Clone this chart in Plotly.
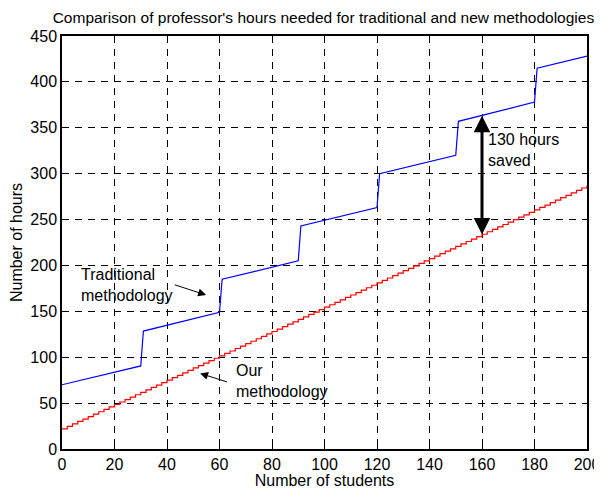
import plotly.graph_objects as go

# Traditional methodology (blue) - breakpoints
traditional_x = [0, 30, 31, 60, 61, 90, 91, 120, 121, 150, 151, 180, 181, 200]
traditional_y = [70, 90.5, 128.5, 149, 185, 205, 243, 263, 300, 320, 357, 378, 415, 428]

# Our methodology (red) - small staircase, one step every two students
ours_x = list(range(0, 201, 2))
ours_y = [22.0, 24.7, 27.3, 30.0, 32.6, 35.3, 37.9, 40.6, 43.2, 45.9,
          48.5, 51.2, 53.8, 56.5, 59.1, 61.8, 64.4, 67.1, 69.7, 72.4,
          75.0, 77.7, 80.3, 83.0, 85.6, 88.3, 90.9, 93.6, 96.2, 98.9,
          101.5, 104.2, 106.8, 109.5, 112.1, 114.8, 117.4, 120.1, 122.7, 125.4,
          128.0, 130.7, 133.3, 136.0, 138.6, 141.3, 143.9, 146.6, 149.2, 151.9,
          154.5, 157.2, 159.8, 162.5, 165.1, 167.8, 170.4, 173.1, 175.7, 178.4,
          181.0, 183.7, 186.3, 189.0, 191.6, 194.3, 196.9, 199.6, 202.2, 204.9,
          207.5, 210.2, 212.8, 215.5, 218.1, 220.8, 223.4, 226.1, 228.7, 231.4,
          234.0, 236.7, 239.3, 242.0, 244.6, 247.3, 249.9, 252.6, 255.2, 257.9,
          260.5, 263.2, 265.8, 268.5, 271.1, 273.8, 276.4, 279.1, 281.7, 284.4,
          287.0]

x_ticks = [0, 20, 40, 60, 80, 100, 120, 140, 160, 180, 200]
y_ticks = [0, 50, 100, 150, 200, 250, 300, 350, 400, 450]

saved_x = 160
saved_top = 363
saved_bottom = 232

FONT = "Arial, Liberation Sans, sans-serif"
FS = 16

fig = go.Figure()
fig.add_trace(go.Scatter(x=traditional_x, y=traditional_y, mode="lines",
                         line=dict(color="#0000FF", width=1.2), showlegend=False))
fig.add_trace(go.Scatter(x=ours_x, y=ours_y, mode="lines", line_shape="hv",
                         line=dict(color="#FF0000", width=1.2), showlegend=False))

axis_common = dict(
    showline=True, linecolor="black", linewidth=1.5, mirror="ticks",
    ticks="inside", ticklen=5, tickcolor="black", tickwidth=1,
    showgrid=True, gridcolor="black", gridwidth=1, griddash="7px,6px",
    zeroline=False, automargin=False,
    tickfont=dict(family=FONT, size=FS, color="black"),
)

fig.update_xaxes(range=[0, 200], tickvals=x_ticks, ticklabelstandoff=0,
                 title=dict(text="Number of students", font=dict(family=FONT, size=FS, color="black"), standoff=2),
                 **axis_common)
fig.update_yaxes(range=[0, 450], tickvals=y_ticks, ticklabelstandoff=0,
                 title=dict(text="Number of hours", font=dict(family=FONT, size=FS, color="black"), standoff=8),
                 **axis_common)

annotations = [
    # big double arrow
    dict(x=saved_x, y=saved_top, ax=saved_x, ay=saved_bottom, xref="x", yref="y",
         axref="x", ayref="y", text="", showarrow=True, arrowhead=2, startarrowhead=2,
         arrowside="end+start", arrowwidth=3, arrowsize=1.1, arrowcolor="black",
         standoff=0, startstandoff=0),
    dict(x=161.5, y=326, xref="x", yref="y", text="130 hours<br>saved", showarrow=False,
         xanchor="left", yanchor="middle", align="left",
         font=dict(family=FONT, size=FS, color="black")),
    # traditional label
    dict(x=6.5, y=179, xref="x", yref="y", text="Traditional<br>methodology", showarrow=False,
         xanchor="left", yanchor="middle", align="left",
         font=dict(family=FONT, size=FS, color="black")),
    dict(x=54.9, y=167.8, ax=42.4, ay=179.4, xref="x", yref="y", axref="x", ayref="y",
         text="", showarrow=True, arrowhead=2, arrowwidth=1, arrowsize=1.6,
         arrowcolor="black", standoff=0),
    # our methodology label
    dict(x=65.5, y=74.5, xref="x", yref="y", text="Our<br>methodology", showarrow=False,
         xanchor="left", yanchor="middle", align="left",
         font=dict(family=FONT, size=FS, color="black")),
    dict(x=52.6, y=82.4, ax=63.4, ay=72.6, xref="x", yref="y", axref="x", ayref="y",
         text="", showarrow=True, arrowhead=2, arrowwidth=1, arrowsize=1.6,
         arrowcolor="black", standoff=0),
]

# The page body has an 8px default margin, so the figure is sized 8px smaller
fig.update_layout(
    width=594, height=481,
    margin=dict(l=54, r=15, t=28, b=40, autoexpand=False),
    paper_bgcolor="white", plot_bgcolor="white",
    title=dict(text="Comparison of professor's hours needed for traditional and new methodologies",
               x=0.531, xanchor="center", y=0.981, yanchor="middle",
               font=dict(family=FONT, size=15.5, color="black")),
    annotations=annotations,
    font=dict(family=FONT, color="black"),
)

fig.write_html("out.html")
